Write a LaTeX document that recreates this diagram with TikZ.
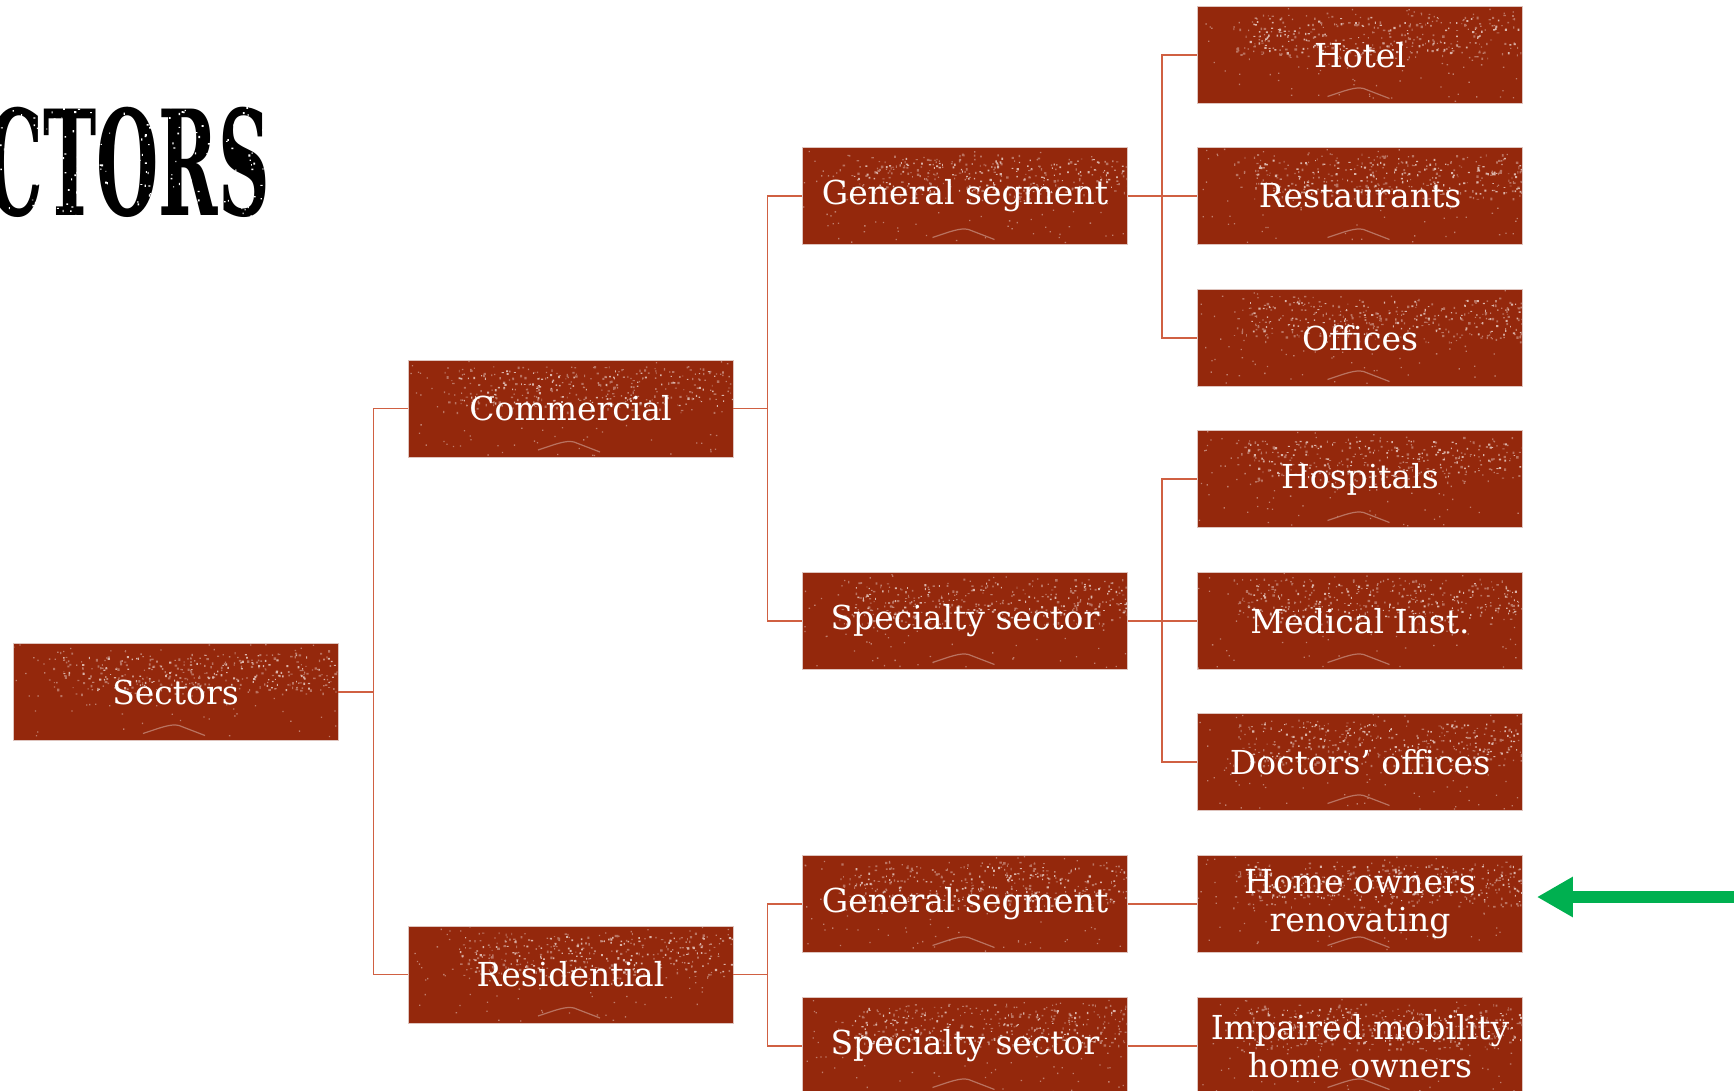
\documentclass[tikz,border=0pt]{standalone}
\usepackage{fontspec}
\usepackage{graphicx}
\setmainfont{DejaVu Serif}
\usetikzlibrary{arrows.meta}

\definecolor{boxred}{RGB}{148,40,12}
\definecolor{boxedge}{RGB}{222,196,190}
\definecolor{linkred}{RGB}{208,96,66}
\definecolor{arrowgreen}{RGB}{0,176,80}

\tikzset{
  box/.style={
    rectangle, fill=boxred, draw=boxedge, line width=0.8pt,
    minimum width=325pt, minimum height=97pt,
    inner sep=0pt, text=white, align=center,
    font=\fontsize{33}{38}\selectfont,
    path picture={
      % worn print texture: a dense light band near the top ...
      \fill[white!35!boxred]
        \foreach \k in {1,...,190}{
          ([shift={(35+rnd*290,6+rnd*46)}]path picture bounding box.north west)
          rectangle ++({0.8+rnd*1.8},{0.8+rnd*1.8})
        };
      \fill[white!65!boxred]
        \foreach \k in {1,...,150}{
          ([shift={(50+rnd*275,10+rnd*36)}]path picture bounding box.north west)
          rectangle ++({0.8+rnd*1.5},{0.8+rnd*1.5})
        };
      % ... sparser flecks over the rest
      \fill[white!40!boxred]
        \foreach \k in {1,...,100}{
          ([shift={(rnd*323,rnd*95)}]path picture bounding box.north west)
          rectangle ++(1.3,1.3)
        };
      % faint scratch near the bottom
      \draw[white!35!boxred, line width=1.2pt]
        ([shift={(130,90)}]path picture bounding box.north west)
        .. controls ([shift={(148,84)}]path picture bounding box.north west)
        and ([shift={(158,80)}]path picture bounding box.north west)
        .. ([shift={(166,82)}]path picture bounding box.north west)
        -- ([shift={(192,92)}]path picture bounding box.north west);
    }
  },
  link/.style={draw=linkred, line width=1.5pt},
  pointer/.style={draw=arrowgreen, line width=12pt,
    -{Triangle[length=36pt,width=38pt]}},
}

\begin{document}
\begin{tikzpicture}[x=1pt,y=-1pt]
  \pgfmathsetseed{4242}
  \useasboundingbox (0,0) rectangle (1734,1091);
  \clip (0,0) rectangle (1734,1091);
  \fill[white] (0,0) rectangle (1734,1091);

  % heading, running off the left edge
  \node[anchor=base east, inner sep=0pt] (title) at (270,216)
    {\scalebox{0.49}[1]{\fontsize{146}{146}\selectfont\bfseries SECTORS}};
  \fill[white]
    \foreach \k in {1,...,300}{
      ({rnd*272},{105+rnd*118}) rectangle ++({0.8+rnd*1.4},{0.8+rnd*1.4})
    };

  % tree of sectors
  \node[box] (sectors)     at (175.5,692)  {Sectors};
  \node[box] (commercial)  at (570.5,408.5) {Commercial};
  \node[box] (residential) at (570.5,974.5) {Residential};
  \node[box] (gen1)        at (965,196)  {General segment};
  \node[box] (spec1)       at (965,621)  {Specialty sector};
  \node[box] (gen2)        at (965,904)  {General segment};
  \node[box] (spec2)       at (965,1046) {Specialty sector};
  \node[box] (hotel)       at (1360,55)  {Hotel};
  \node[box] (rest)        at (1360,196) {Restaurants};
  \node[box] (offices)     at (1360,338) {Offices};
  \node[box] (hosp)        at (1360,479) {Hospitals};
  \node[box] (medical)     at (1360,621) {Medical Inst.};
  \node[box] (doctors)     at (1360,762) {Doctors’ offices};
  \node[box] (home)        at (1360,904) {Home owners\\renovating};
  \node[box] (impaired)    at (1360,1046) {Impaired mobility\\home owners};

  % connectors
  \draw[link] (sectors.east) -- ++(35,0) |- (commercial.west);
  \draw[link] (sectors.east) -- ++(35,0) |- (residential.west);
  \draw[link] (commercial.east) -- ++(34,0) |- (gen1.west);
  \draw[link] (commercial.east) -- ++(34,0) |- (spec1.west);
  \draw[link] (residential.east) -- ++(34,0) |- (gen2.west);
  \draw[link] (residential.east) -- ++(34,0) |- (spec2.west);
  \draw[link] (gen1.east) -- ++(34,0) |- (hotel.west);
  \draw[link] (gen1.east) -- (rest.west);
  \draw[link] (gen1.east) -- ++(34,0) |- (offices.west);
  \draw[link] (spec1.east) -- ++(34,0) |- (hosp.west);
  \draw[link] (spec1.east) -- (medical.west);
  \draw[link] (spec1.east) -- ++(34,0) |- (doctors.west);
  \draw[link] (gen2.east) -- (home.west);
  \draw[link] (spec2.east) -- (impaired.west);

  % green pointer
  \coordinate (pointerstart) at (1745,897);
  \draw[pointer] (pointerstart) -- ([shift={(14,-7)}]home.east);
\end{tikzpicture}
\end{document}
